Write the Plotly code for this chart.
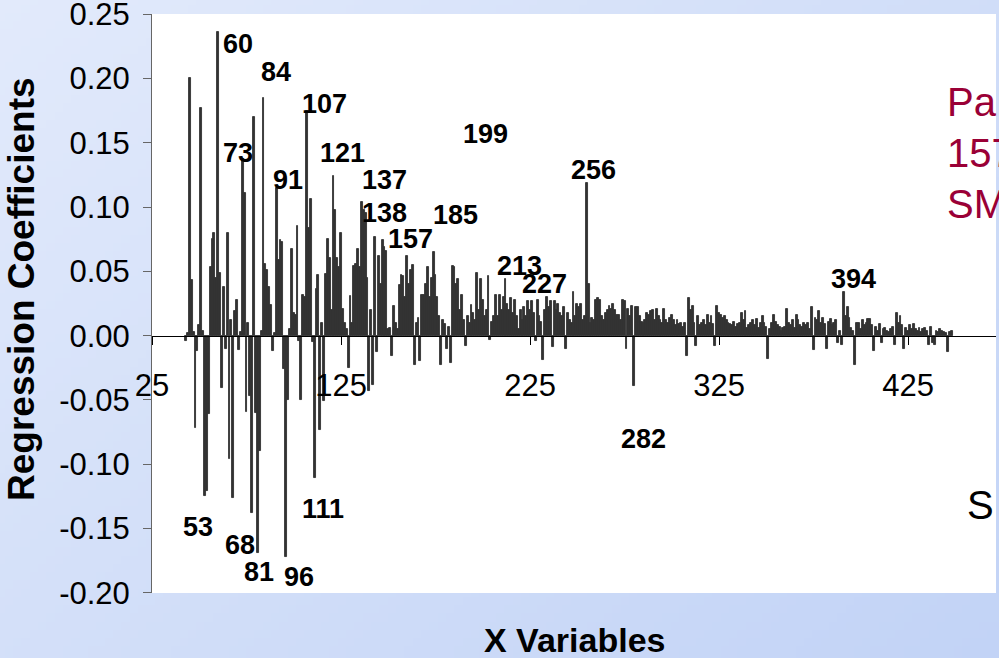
import zlib, struct, base64
import plotly.graph_objects as go

# ---------------- data ----------------
x_start = 43
coefficients = [
    -0.004, 0.002, 0.200, 0.043, 0.003, -0.072, -0.012,                      # 43-49
    0.008, 0.177, 0.004, -0.125, -0.121, -0.061, 0.053, 0.075, 0.080, 0.045,  # 50-59
    0.236, 0.049, -0.041, 0.038, -0.010, 0.080, -0.096, 0.012, -0.126, 0.019, # 60-69
    0.028, -0.011, 0.003, 0.137, 0.111, -0.059, 0.010, -0.047, -0.138, 0.170, # 70-79
    -0.060, -0.169, -0.090, 0.004, 0.185, 0.056, 0.051, 0.038, 0.024, -0.012, # 80-89
    0.002, 0.115, 0.059, 0.074, 0.073, -0.026, -0.172, -0.050, 0.005, 0.067,  # 90-99
    0.018, 0.016, 0.085, -0.004, -0.050, 0.032, 0.030, 0.175, 0.084, 0.106,   # 100-109
    -0.005, -0.111, 0.036, 0.047, -0.073, 0.010, -0.051, 0.048, 0.075, 0.060, # 110-119
    0.020, 0.124, 0.098, 0.060, 0.053, 0.080, 0.021, 0.010, 0.005, -0.025,    # 120-129
    0.031, 0.010, 0.054, 0.056, 0.067, 0.053, 0.104, 0.098, 0.095, 0.045,     # 130-139
    -0.043, 0.020, -0.038, 0.077, -0.013, 0.062, 0.040, 0.074, 0.069, 0.066,  # 140-149
    0.005, 0.006, -0.016, 0.023, 0.010, 0.005, 0.039, 0.047, 0.046, 0.030,    # 150-159
    0.062, 0.040, 0.051, 0.055, -0.023, 0.010, 0.014, -0.020, 0.032, 0.032,   # 160-169
    0.040, 0.053, 0.030, 0.045, 0.065, 0.047, 0.030, 0.015, -0.023, 0.012,    # 170-179
    0.009, -0.010, 0.007, -0.021, 0.054, 0.053, 0.040, 0.044, 0.020, 0.032,   # 180-189
    0.012, -0.008, 0.015, 0.010, 0.024, 0.018, 0.012, 0.049, 0.020, 0.044,    # 190-199
    0.028, 0.015, 0.020, 0.046, -0.003, 0.011, 0.015, 0.032, 0.015, 0.032,    # 200-209
    0.020, 0.030, 0.044, 0.025, 0.020, 0.029, 0.018, 0.028, 0.015, 0.005,     # 210-219
    0.020, 0.012, 0.022, 0.015, 0.027, 0.020, 0.027, 0.018, -0.004, 0.028,    # 220-229
    0.015, 0.011, -0.019, 0.020, 0.030, 0.022, 0.027, -0.009, 0.027, 0.020,   # 230-239
    0.025, 0.018, 0.015, 0.022, -0.010, 0.018, 0.012, 0.010, 0.034, 0.015,    # 240-249
    0.025, 0.022, 0.025, 0.012, 0.015, 0.119, 0.040, 0.010, 0.014, 0.012,     # 250-259
    0.028, 0.029, 0.028, 0.015, 0.012, 0.018, 0.020, 0.023, 0.021, 0.025,     # 260-269
    0.020, 0.016, 0.016, 0.012, 0.028, 0.027, -0.010, 0.021, 0.015, 0.023,    # 270-279
    -0.039, 0.022, 0.022, 0.015, 0.011, 0.010, 0.012, 0.018, 0.016, 0.019,    # 280-289
    0.020, 0.012, 0.021, 0.015, 0.012, 0.010, 0.021, 0.012, 0.010, 0.014,     # 290-299
    0.016, 0.012, 0.008, 0.012, 0.009, 0.010, 0.007, 0.010, -0.016, 0.029,    # 300-309
    0.020, 0.023, 0.010, -0.008, 0.015, 0.008, 0.010, 0.012, 0.008, 0.016,    # 310-319
    0.010, 0.015, 0.009, -0.008, 0.023, 0.018, 0.016, 0.014, 0.015, 0.012,    # 320-329
    0.010, 0.009, 0.008, 0.011, 0.007, 0.009, 0.010, 0.018, 0.012, 0.019,     # 330-339
    0.006, 0.008, 0.010, 0.012, 0.008, 0.013, 0.006, 0.010, 0.015, 0.010,     # 340-349
    0.007, -0.018, 0.005, 0.010, 0.016, 0.011, 0.008, 0.007, 0.004, 0.006,    # 350-359
    0.007, 0.021, 0.010, 0.008, 0.012, 0.006, 0.016, 0.012, 0.008, 0.007,     # 360-369
    0.010, 0.008, 0.010, 0.005, 0.022, -0.011, 0.014, 0.012, 0.019, 0.010,    # 370-379
    0.014, 0.009, -0.010, 0.011, 0.013, 0.008, 0.010, 0.012, -0.006, 0.004,   # 380-389
    -0.007, 0.034, 0.015, 0.022, 0.014, 0.006, 0.004, -0.023, 0.010, 0.010,   # 390-399
    0.005, 0.012, 0.008, 0.010, 0.013, 0.013, 0.008, -0.012, 0.007, 0.004,    # 400-409
    0.009, -0.006, 0.005, 0.006, 0.004, 0.003, 0.005, 0.007, -0.007, 0.018,   # 410-419
    0.010, 0.015, 0.008, -0.010, 0.006, 0.004, 0.008, 0.005, 0.009, 0.005,    # 420-429
    0.004, 0.006, 0.003, 0.005, 0.006, 0.004, -0.007, 0.007, -0.006, -0.007,  # 430-439
    0.004, 0.003, 0.005, 0.004, 0.003, 0.002, -0.013, 0.003, 0.004,           # 440-448
]
x_variables = list(range(x_start, x_start + len(coefficients)))

x_tick_vals = [25, 125, 225, 325, 425]
y_tick_vals = [-0.20, -0.15, -0.10, -0.05, 0.00, 0.05, 0.10, 0.15, 0.20, 0.25]
y_tick_text = ["-0.20", "-0.15", "-0.10", "-0.05", "0.00", "0.05", "0.10", "0.15", "0.20", "0.25"]

# peak labels (text, x position, y position in data units)
label_text = ["60", "84", "107", "73", "91", "121", "199", "137", "256", "138", "185",
              "157", "213", "227", "394", "282", "53", "68", "81", "96", "111"]
label_x = [70.5, 90.6, 116.5, 70.5, 97.0, 126.0, 201.2, 147.8, 258.3, 147.8, 185.8,
           162.0, 219.2, 232.4, 395.9, 284.8, 49.3, 71.6, 81.6, 102.8, 115.5]
label_y = [0.227, 0.205, 0.180, 0.142, 0.121, 0.142, 0.157, 0.121, 0.129, 0.095, 0.094,
           0.075, 0.054, 0.040, 0.044, -0.080, -0.149, -0.163, -0.184, -0.188, -0.135]

side_lines = ["Pa", "157", "SM"]

X_RANGE = [25, 471.5]
Y_RANGE = [-0.2001, 0.2501]

FONT = "Liberation Sans, Arial, sans-serif"

# ---------------- background gradient ----------------
def gradient_png(w, h, c_tl, c_br):
    raw = bytearray()
    for j in range(h):
        raw.append(0)
        for i in range(w):
            t = (i / (w - 1)) * 0.55 + (j / (h - 1)) * 0.45
            for a, b in zip(c_tl, c_br):
                raw.append(int(round(a + (b - a) * t)))

    def chunk(tag, data):
        return (struct.pack(">I", len(data)) + tag + data +
                struct.pack(">I", zlib.crc32(tag + data) & 0xFFFFFFFF))

    png = (b"\x89PNG\r\n\x1a\n" +
           chunk(b"IHDR", struct.pack(">IIBBBBB", w, h, 8, 2, 0, 0, 0)) +
           chunk(b"IDAT", zlib.compress(bytes(raw))) +
           chunk(b"IEND", b""))
    return "data:image/png;base64," + base64.b64encode(png).decode()

W, H = 999, 658
ML, MR, MT, MB = 152, 3, 14, 65
PW, PH = W - ML - MR, H - MT - MB

fig = go.Figure()
fig.add_trace(go.Bar(
    x=x_variables, y=coefficients,
    marker=dict(color="#333333", line=dict(width=0.9, color="#333333")),
    hoverinfo="x+y",
))

zero_pos = (0 - Y_RANGE[0]) / (Y_RANGE[1] - Y_RANGE[0])

annotations = []
for t, lx, ly in zip(label_text, label_x, label_y):
    annotations.append(dict(
        x=lx, y=ly, xref="x", yref="y", text="<b>%s</b>" % t, showarrow=False,
        xanchor="center", yanchor="middle",
        font=dict(family=FONT, size=27, color="black"),
    ))

annotations.append(dict(
    x=-130 / PW, y=(PH - (289 - MT)) / PH, xref="paper", yref="paper",
    xanchor="center", yanchor="middle",
    text="<b>Regression Coefficients</b>", textangle=-90, showarrow=False,
    font=dict(family=FONT, size=37, color="black"),
))
annotations.append(dict(
    x=0.5, y=-(640 - (MT + PH)) / PH, xref="paper", yref="paper",
    xanchor="center", yanchor="middle",
    text="<b>X Variables</b>", showarrow=False,
    font=dict(family=FONT, size=34, color="black"),
))
for t, ypx in zip(side_lines, [102, 153, 204]):
    annotations.append(dict(
        x=(945 - ML) / PW, y=(PH - (ypx - MT)) / PH, xref="paper", yref="paper",
        xanchor="left", yanchor="middle", text=t, showarrow=False,
        font=dict(family=FONT, size=40, color="#9A0036"),
    ))
annotations.append(dict(
    x=(965 - ML) / PW, y=(PH - (505 - MT)) / PH, xref="paper", yref="paper",
    xanchor="left", yanchor="middle", text="S", showarrow=False,
    font=dict(family=FONT, size=40, color="black"),
))

fig.update_layout(
    width=W, height=H,
    margin=dict(l=ML, r=MR, t=MT, b=MB, pad=0, autoexpand=False),
    paper_bgcolor="#dfe8f9",
    plot_bgcolor="white",
    showlegend=False,
    bargap=0.0,
    annotations=annotations,
    images=[dict(
        source=gradient_png(120, 80, (226, 234, 251), (194, 211, 246)),
        xref="paper", yref="paper", x=-ML / PW, y=1 + MT / PH,
        sizex=W / PW, sizey=H / PH, sizing="stretch",
        xanchor="left", yanchor="top", layer="below",
    )],
    shapes=[dict(type="rect", xref="paper", yref="paper", x0=0, x1=1, y0=0, y1=1,
                 fillcolor="white", line=dict(width=0), layer="below")],
    xaxis=dict(
        range=X_RANGE, anchor="free", position=zero_pos, automargin=False,
        tickvals=x_tick_vals, ticktext=[str(v) for v in x_tick_vals],
        ticks="outside", ticklen=8, tickcolor="black", tickwidth=1,
        showline=True, linecolor="black", linewidth=1,
        showgrid=False, zeroline=False,
        ticklabelstandoff=14, ticklabeloverflow="allow",
        tickfont=dict(family=FONT, size=31, color="black"),
    ),
    yaxis=dict(
        range=Y_RANGE, tickvals=y_tick_vals, ticktext=y_tick_text, automargin=False,
        ticks="outside", ticklen=8, tickcolor="#666666", tickwidth=1,
        showline=True, linecolor="#666666", linewidth=1,
        showgrid=False, zeroline=False,
        ticklabelstandoff=7, ticklabeloverflow="allow",
        tickfont=dict(family=FONT, size=31, color="black"),
    ),
)

fig.write_html("out.html", config={"displayModeBar": False})

# remove the default page margin so the figure sits at the window's corner
with open("out.html", encoding="utf-8") as f:
    html = f.read()
html = html.replace("<body>", '<body style="margin:0;padding:0;overflow:hidden">', 1)
with open("out.html", "w", encoding="utf-8") as f:
    f.write(html)
